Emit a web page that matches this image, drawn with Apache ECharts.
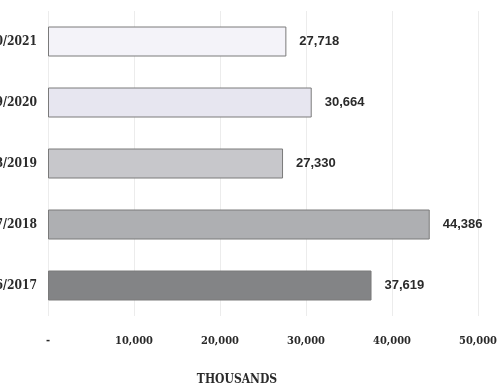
<!DOCTYPE html>
<html>
<head>
<meta charset="utf-8">
<script src="https://cdn.jsdelivr.net/npm/echarts@6/dist/echarts.min.js"></script>
<style>
  html, body { margin: 0; padding: 0; background: #ffffff; }
  #chart { width: 499px; height: 383px; }
</style>
</head>
<body>
<div id="chart"></div>
<script>
// Seasons, top to bottom
const seasons = ['2020/2021', '2019/2020', '2018/2019', '2017/2018', '2016/2017'];
// Values in thousands
const values = [27718, 30664, 27330, 44386, 37619];
// Axis ticks
const xTicks = [0, 10000, 20000, 30000, 40000, 50000];
const axisTitle = 'THOUSANDS';

const barFills = ['#f4f3f9', '#e7e6f0', '#c7c7cb', '#aeafb2', '#838486'];

const serifFont = '"DejaVu Serif Condensed", "Liberation Serif", serif';
const narrowFont = '"Liberation Sans Narrow", "Liberation Sans", sans-serif';

const fmt = v => v === 0 ? '-' : v.toLocaleString('en-US');

const chart = echarts.init(document.getElementById('chart'), null, { renderer: 'canvas' });
chart.setOption({
  animation: false,
  backgroundColor: '#ffffff',
  title: {
    text: axisTitle,
    left: 232,
    top: 369,
    textAlign: 'center',
    textStyle: { fontFamily: serifFont, fontSize: 12, fontWeight: 'bold', color: '#2a2a2a' }
  },
  grid: { left: 48, right: 21, top: 11, bottom: 67, containLabel: false, outerBoundsMode: 'none' },
  xAxis: {
    type: 'value',
    min: xTicks[0],
    max: xTicks[xTicks.length - 1],
    interval: 10000,
    axisLine: { show: false },
    axisTick: { show: false },
    splitLine: { show: true, lineStyle: { color: '#ececec', width: 1 } },
    axisLabel: {
      formatter: fmt,
      margin: 20,
      fontFamily: serifFont,
      fontSize: 11,
      fontWeight: 'bold',
      color: '#2a2a2a'
    }
  },
  yAxis: {
    type: 'category',
    data: seasons,
    inverse: true,
    axisLine: { show: false },
    axisTick: { show: false },
    axisLabel: {
      margin: 11,
      fontFamily: serifFont,
      fontSize: 12,
      fontWeight: 'bold',
      color: '#2a2a2a'
    }
  },
  series: [{
    type: 'bar',
    barWidth: 30,
    data: values.map((v, i) => ({
      value: v,
      itemStyle: { color: barFills[i], borderColor: '#7a7a7a', borderWidth: 1 }
    })),
    label: {
      show: true,
      position: 'right',
      distance: 13,
      formatter: p => fmt(p.value),
      fontFamily: narrowFont,
      fontSize: 13,
      fontWeight: 'bold',
      color: '#2a2a2a'
    }
  }]
});
</script>
</body>
</html>
